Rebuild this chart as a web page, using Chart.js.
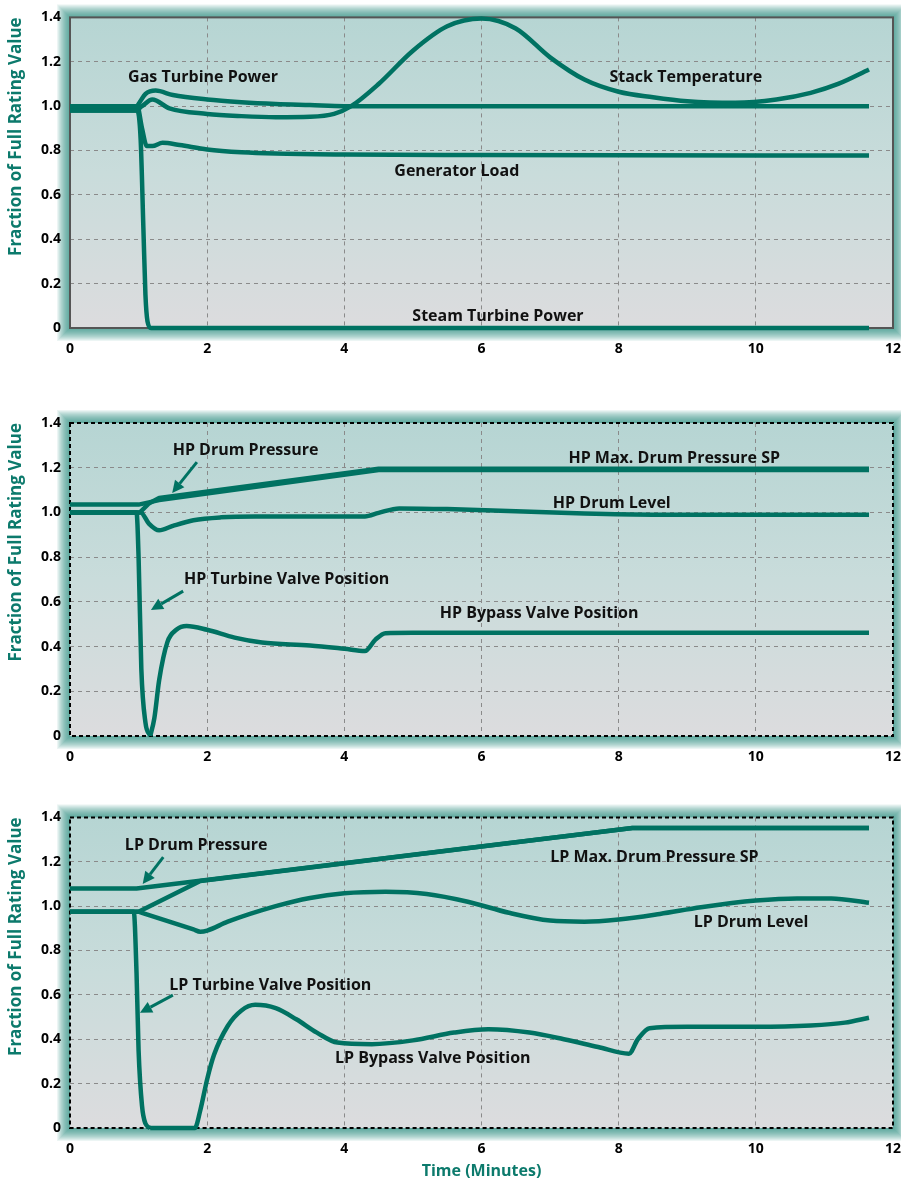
<!DOCTYPE html>
<html>
<head>
<meta charset="utf-8">
<script src="https://cdn.jsdelivr.net/npm/chart.js@4.4.1/dist/chart.umd.min.js"></script>
<style>
  body { margin: 0; background: #fff; width: 901px; height: 1185px; overflow: hidden; position: relative; }
  .panel { position: absolute; left: 0; width: 914px; }
</style>
</head>
<body>
<div class="panel" style="top:0;height:400px"><canvas id="c1"></canvas></div>
<div class="panel" style="top:400px;height:400px"><canvas id="c2"></canvas></div>
<div class="panel" style="top:800px;height:385px"><canvas id="c3"></canvas></div>
<script>
// 刻度
const xTicks = [0, 2, 4, 6, 8, 10, 12];
const yTicks = [0, 0.2, 0.4, 0.6, 0.8, 1.0, 1.2, 1.4];

// 面板 1 数据 (时间, 数值)
const gasTurbineT = [0, 0.95, 1.02, 1.1, 1.25, 1.5, 2.0, 2.5, 3.0, 3.5, 4.0, 5.0, 11.65];
const gasTurbineV = [0.99, 0.99, 1.02, 1.055, 1.07, 1.05, 1.03, 1.018, 1.01, 1.005, 1.0, 1.0, 1.0];
const stackTempT = [0, 0.95, 1.05, 1.2, 1.45, 2.0, 2.5, 3.0, 3.5, 3.85, 4.1, 4.5, 5.0, 5.5, 6.0, 6.5, 7.0, 7.5, 8.0, 8.5, 9.0, 9.7, 10.3, 10.8, 11.2, 11.65];
const stackTempV = [0.98, 0.98, 1.0, 1.03, 0.99, 0.965, 0.955, 0.95, 0.952, 0.965, 1.0, 1.1, 1.25, 1.36, 1.395, 1.35, 1.22, 1.12, 1.065, 1.04, 1.022, 1.015, 1.03, 1.06, 1.1, 1.165];
const genLoadT = [0, 0.98, 1.05, 1.12, 1.2, 1.35, 1.6, 2.0, 2.5, 3.0, 4.0, 6.0, 11.65];
const genLoadV = [1.0, 1.0, 0.9, 0.82, 0.82, 0.835, 0.825, 0.805, 0.792, 0.786, 0.782, 0.78, 0.777];
const steamTurbineT = [0, 0.98, 1.03, 1.07, 1.1, 1.13, 1.18, 2.0, 11.65];
const steamTurbineV = [0.98, 0.98, 0.85, 0.45, 0.15, 0.03, 0, 0, 0];

// 面板 2 数据
const hpMaxSpT = [0, 1.0, 1.15, 1.3, 4.5, 11.65];
const hpMaxSpV = [1.035, 1.035, 1.045, 1.055, 1.19, 1.19];
const hpDrumPressT = [0, 1.02, 1.15, 1.3, 4.5, 11.65];
const hpDrumPressV = [1.0, 1.0, 1.04, 1.065, 1.195, 1.195];
const hpDrumLevelT = [0, 1.03, 1.15, 1.3, 1.5, 1.8, 2.2, 2.7, 3.5, 4.3, 4.5, 4.8, 5.5, 6.5, 7.5, 8.5, 11.65];
const hpDrumLevelV = [1.0, 1.0, 0.95, 0.92, 0.94, 0.965, 0.978, 0.982, 0.982, 0.982, 0.998, 1.018, 1.015, 1.005, 0.995, 0.99, 0.99];
const hpTurbValveT = [0, 0.97, 1.0, 1.04, 1.1, 1.17];
const hpTurbValveV = [1.0, 1.0, 0.8, 0.3, 0.06, 0];
const hpBypassT = [1.17, 1.23, 1.3, 1.42, 1.55, 1.7, 2.0, 2.4, 2.8, 3.5, 4.0, 4.3, 4.45, 4.6, 5.0, 11.65];
const hpBypassV = [0, 0.08, 0.25, 0.42, 0.475, 0.492, 0.475, 0.44, 0.418, 0.405, 0.39, 0.38, 0.43, 0.46, 0.462, 0.462];

// 面板 3 数据
const lpMaxSpT = [0, 0.97, 8.2, 11.65];
const lpMaxSpV = [1.08, 1.08, 1.352, 1.352];
const lpDrumPressT = [0, 1.0, 1.9, 8.2, 11.65];
const lpDrumPressV = [0.975, 0.975, 1.113, 1.352, 1.352];
const lpDrumLevelT = [0, 1.0, 1.05, 1.8, 1.9, 2.0, 2.3, 3.0, 3.5, 4.0, 4.6, 5.2, 5.8, 6.4, 7.0, 7.5, 8.0, 8.6, 9.2, 10.0, 10.6, 11.1, 11.65];
const lpDrumLevelV = [0.975, 0.975, 0.97, 0.895, 0.885, 0.89, 0.93, 1.0, 1.037, 1.058, 1.065, 1.055, 1.02, 0.97, 0.935, 0.93, 0.94, 0.965, 0.995, 1.025, 1.035, 1.035, 1.015];
const lpTurbValveT = [0, 0.93, 0.97, 1.0, 1.05, 1.1, 1.17];
const lpTurbValveV = [0.975, 0.975, 0.7, 0.35, 0.1, 0.02, 0];
const lpBypassT = [1.17, 1.82, 1.9, 2.0, 2.1, 2.3, 2.5, 2.7, 3.0, 3.3, 3.6, 3.9, 4.4, 5.0, 5.6, 6.1, 6.7, 7.2, 7.7, 8.15, 8.28, 8.45, 9.0, 10.0, 10.8, 11.3, 11.65];
const lpBypassV = [0, 0, 0.08, 0.22, 0.33, 0.46, 0.53, 0.555, 0.54, 0.49, 0.43, 0.385, 0.378, 0.395, 0.43, 0.445, 0.43, 0.4, 0.365, 0.335, 0.4, 0.45, 0.456, 0.456, 0.462, 0.475, 0.497];

const LINE = '#007262';
const TEAL_TEXT = '#0c7a6c';
const FONT = '"Open Sans", sans-serif';

function pts(ts, vs) {
    return ts.map((t, i) => ({ x: t, y: vs[i] }));
}

function series(ts, vs, straight) {
    return {
        data: pts(ts, vs),
        borderColor: LINE,
        borderWidth: 4.5,
        pointRadius: 0,
        cubicInterpolationMode: straight ? 'default' : 'monotone',
        tension: 0,
        borderJoinStyle: 'round',
        fill: false,
        clip: 6
    };
}

// 背景与边框插件
const framePlugin = {
    id: 'frame',
    beforeDraw(chart, args, opts) {
        const { ctx, chartArea: a } = chart;
        ctx.save();
        for (let i = 13; i >= 1; i--) {
            ctx.fillStyle = 'rgba(0,118,106,0.075)';
            ctx.fillRect(a.left - i, a.top - i, a.right - a.left + 2 * i, a.bottom - a.top + 2 * i);
        }
        const g = ctx.createLinearGradient(0, a.top, 0, a.bottom);
        g.addColorStop(0, '#b6d5d3');
        g.addColorStop(0.5, '#c9dcdb');
        g.addColorStop(1, '#dcdcde');
        ctx.fillStyle = g;
        ctx.fillRect(a.left, a.top, a.right - a.left, a.bottom - a.top);
        ctx.restore();
    },
    beforeDatasetsDraw(chart, args, opts) {
        const { ctx, chartArea: a } = chart;
        ctx.save();
        ctx.lineWidth = 2;
        if (opts.dotted) {
            ctx.strokeStyle = '#000';
            ctx.setLineDash([4, 3]);
        } else {
            ctx.strokeStyle = '#555';
        }
        ctx.strokeRect(a.left, a.top, a.right - a.left, a.bottom - a.top);
        ctx.restore();
    }
};

// 文字标注与箭头插件
const labelPlugin = {
    id: 'labels',
    afterDatasetsDraw(chart, args, opts) {
        const { ctx, scales: { x, y } } = chart;
        ctx.save();
        ctx.fillStyle = '#111';
        ctx.font = 'bold 16px ' + FONT;
        ctx.textAlign = 'center';
        ctx.textBaseline = 'middle';
        (opts.texts || []).forEach(t => {
            ctx.fillText(t[0], x.getPixelForValue(t[1]), y.getPixelForValue(t[2]));
        });
        ctx.strokeStyle = LINE;
        ctx.fillStyle = LINE;
        ctx.lineWidth = 3;
        (opts.arrows || []).forEach(r => {
            const x0 = x.getPixelForValue(r[0]), y0 = y.getPixelForValue(r[1]);
            const x1 = x.getPixelForValue(r[2]), y1 = y.getPixelForValue(r[3]);
            const ang = Math.atan2(y1 - y0, x1 - x0);
            const hl = 12, hw = 6;
            const bx = x1 - hl * Math.cos(ang), by = y1 - hl * Math.sin(ang);
            ctx.beginPath();
            ctx.moveTo(x0, y0);
            ctx.lineTo(bx, by);
            ctx.stroke();
            ctx.beginPath();
            ctx.moveTo(x1, y1);
            ctx.lineTo(bx + hw * Math.sin(ang), by - hw * Math.cos(ang));
            ctx.lineTo(bx - hw * Math.sin(ang), by + hw * Math.cos(ang));
            ctx.closePath();
            ctx.fill();
        });
        ctx.restore();
    }
};

function makeChart(id, datasets, o) {
    const ctx = document.getElementById(id).getContext('2d');
    return new Chart(ctx, {
        type: 'line',
        data: { datasets: datasets },
        plugins: [framePlugin, labelPlugin],
        options: {
            responsive: true,
            maintainAspectRatio: false,
            animation: false,
            layout: { padding: { top: o.top, right: 0, left: 0, bottom: 0 } },
            plugins: {
                legend: { display: false },
                tooltip: { enabled: false },
                frame: { dotted: o.dotted },
                labels: { texts: o.texts, arrows: o.arrows }
            },
            scales: {
                x: {
                    type: 'linear',
                    min: 0,
                    max: 12,
                    afterBuildTicks: s => { s.ticks = xTicks.map(v => ({ value: v })); },
                    afterFit: s => { s.height = o.xh; },
                    ticks: {
                        color: '#000',
                        font: { family: FONT, size: 14, weight: 'bold' },
                        padding: 13,
                        maxRotation: 0
                    },
                    grid: {
                        drawTicks: false,
                        color: c => (c.tick && (c.tick.value === 0 || c.tick.value === 12)) ? 'rgba(0,0,0,0)' : '#8a8a8a',
                        lineWidth: 1
                    },
                    border: { display: false, dash: [4, 4] },
                    title: {
                        display: !!o.xTitle,
                        text: o.xTitle || '',
                        color: TEAL_TEXT,
                        font: { family: FONT, size: 16, weight: 'bold' },
                        padding: { top: 3 }
                    }
                },
                y: {
                    type: 'linear',
                    min: 0,
                    max: 1.4,
                    afterBuildTicks: s => { s.ticks = yTicks.map(v => ({ value: v })); },
                    afterFit: s => { s.width = 70; },
                    ticks: {
                        color: '#000',
                        font: { family: FONT, size: 14, weight: 'bold' },
                        padding: 9,
                        callback: v => v === 0 ? '0' : Number(v).toFixed(1)
                    },
                    grid: {
                        drawTicks: false,
                        color: c => (c.tick && (c.tick.value === 0 || Math.abs(c.tick.value - 1.4) < 1e-6)) ? 'rgba(0,0,0,0)' : '#8a8a8a',
                        lineWidth: 1
                    },
                    border: { display: false, dash: [4, 4] },
                    title: {
                        display: true,
                        text: 'Fraction of Full Rating Value',
                        align: 'end',
                        color: TEAL_TEXT,
                        font: { family: FONT, size: 17, weight: 'bold' },
                        padding: { top: 6, bottom: 0 }
                    }
                }
            }
        }
    });
}

makeChart('c1', [
    series(steamTurbineT, steamTurbineV),
    series(genLoadT, genLoadV),
    series(stackTempT, stackTempV),
    series(gasTurbineT, gasTurbineV)
], {
    top: 15, xh: 72, dotted: false,
    texts: [
        ['Gas Turbine Power', 1.94, 1.13],
        ['Stack Temperature', 8.98, 1.13],
        ['Generator Load', 5.64, 0.707],
        ['Steam Turbine Power', 6.24, 0.054]
    ],
    arrows: []
});

makeChart('c2', [
    series(hpTurbValveT, hpTurbValveV),
    series(hpBypassT, hpBypassV),
    series(hpDrumLevelT, hpDrumLevelV),
    series(hpMaxSpT, hpMaxSpV, true),
    series(hpDrumPressT, hpDrumPressV, true)
], {
    top: 23, xh: 64, dotted: true,
    texts: [
        ['HP Drum Pressure', 2.56, 1.279],
        ['HP Max. Drum Pressure SP', 8.81, 1.243],
        ['HP Drum Level', 7.9, 1.042],
        ['HP Turbine Valve Position', 3.16, 0.702],
        ['HP Bypass Valve Position', 6.84, 0.55]
    ],
    arrows: [
        [1.85, 1.225, 1.49, 1.087],
        [1.65, 0.648, 1.18, 0.564]
    ]
});

makeChart('c3', [
    series(lpTurbValveT, lpTurbValveV),
    series(lpBypassT, lpBypassV),
    series(lpDrumLevelT, lpDrumLevelV),
    series(lpMaxSpT, lpMaxSpV, true),
    series(lpDrumPressT, lpDrumPressV, true)
], {
    top: 15, xh: 57, dotted: true, xTitle: 'Time (Minutes)',
    texts: [
        ['LP Drum Pressure', 1.84, 1.275],
        ['LP Max. Drum Pressure SP', 8.52, 1.22],
        ['LP Drum Level', 9.93, 0.926],
        ['LP Turbine Valve Position', 2.92, 0.644],
        ['LP Bypass Valve Position', 5.29, 0.313]
    ],
    arrows: [
        [1.36, 1.221, 1.06, 1.10],
        [1.50, 0.599, 1.02, 0.519]
    ]
});
</script>
</body>
</html>
